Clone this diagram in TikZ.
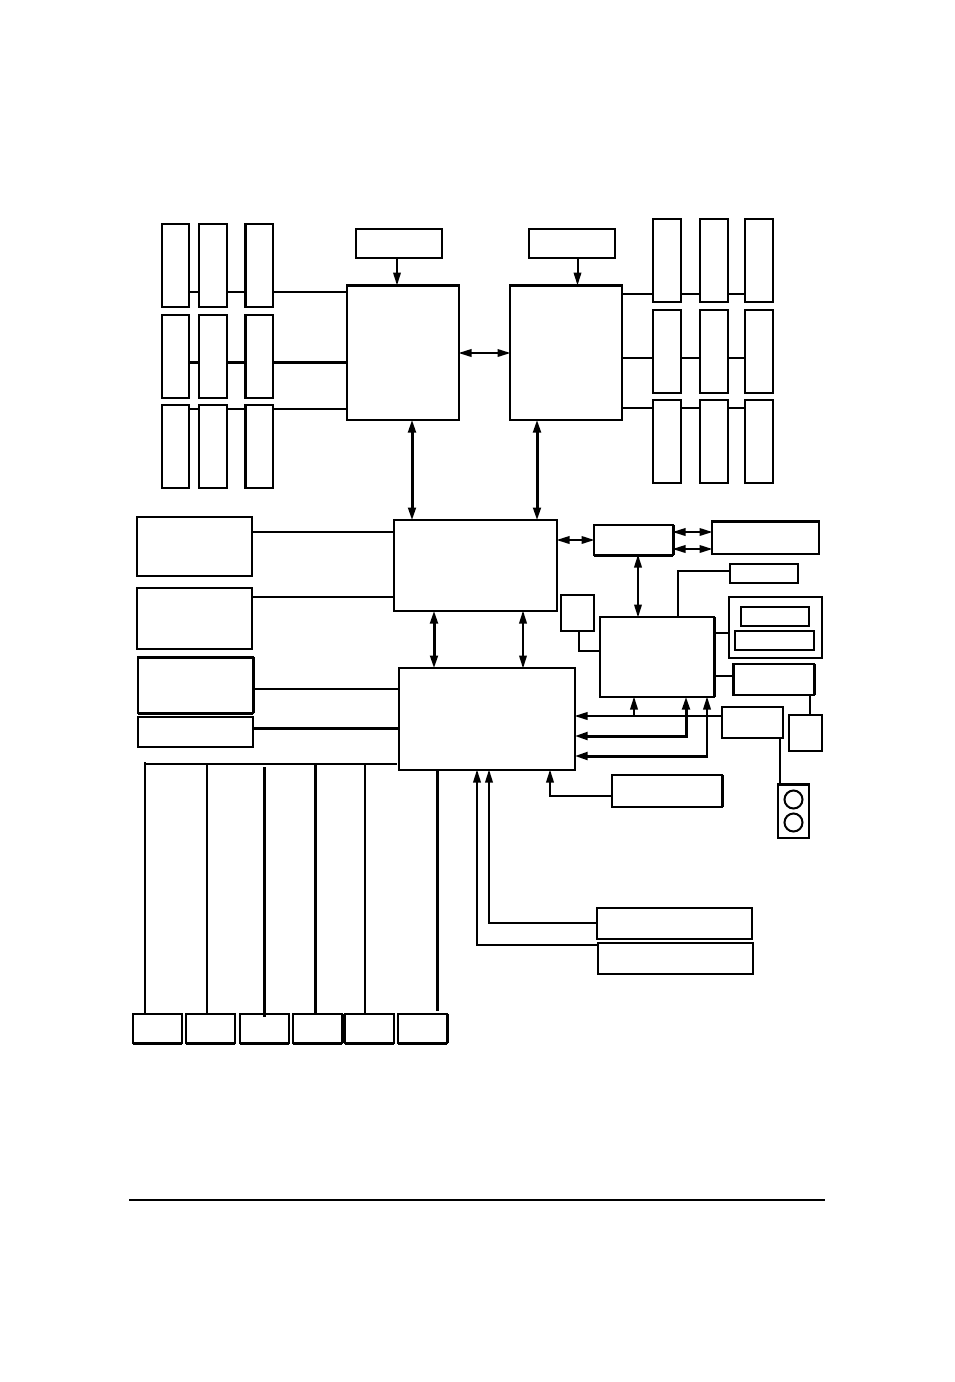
\documentclass[tikz,border=0pt]{standalone}
\usetikzlibrary{arrows.meta,calc}
\tikzset{
  box/.style={draw=black,line width=2pt,fill=white,inner sep=0pt,outer sep=0pt,rectangle},
  hbox/.style={box},
  ln/.style={draw=black,line width=2pt},
  hv/.style={draw=black,line width=3pt},
  edge3/.style={draw=black,line width=3pt,line cap=butt},
  tipa/.tip={Triangle[length=13pt,width=7.5pt]},
  arr/.style={ln,-tipa,shorten >=-0.5pt},
  harr/.style={hv,-tipa,shorten >=-0.5pt},
  darr/.style={ln,tipa-tipa,shorten >=-0.5pt,shorten <=-0.5pt},
  hdarr/.style={hv,tipa-tipa,shorten >=-0.5pt,shorten <=-0.5pt},
  x=1pt,y=-1pt
}
\newcommand\bx[6][]{%
  \pgfmathsetmacro\bxw{#5-#3}\pgfmathsetmacro\bxh{#6-#4}%
  \pgfmathsetmacro\bxx{(#3+#5)/2}\pgfmathsetmacro\bxy{(#4+#6)/2}%
  \node[box,#1,minimum width=\bxw pt,minimum height=\bxh pt] (#2) at (\bxx,\bxy) {};}
\begin{document}
\begin{tikzpicture}
\path[use as bounding box,fill=white] (0,0) rectangle (954,1382);
% left memory
\bx{la}{162}{224}{189}{307}\bx{lb}{199}{224}{227}{307}\bx[hbox]{lc}{245}{224}{273}{307}
\bx{ld}{162}{315}{189}{398}\bx{le}{199}{315}{227}{398}\bx[hbox]{lf}{245}{315}{273}{398}
\bx{lg}{162}{405}{189}{488}\bx{lh}{199}{405}{227}{488}\bx[hbox]{li}{245}{405}{273}{488}
\draw[edge3] (lc.north west)--(lc.south west);
\draw[edge3] (lf.north west)--(lf.south west);
\draw[edge3] (li.north west)--(li.south west);
% right memory
\bx{ra}{653}{219}{681}{302}\bx{rb}{700}{219}{728}{302}\bx{rc}{745}{219}{773}{302}
\bx{rd}{653}{310}{681}{393}\bx{re}{700}{310}{728}{393}\bx{rf}{745}{310}{773}{393}
\bx{rg}{653}{400}{681}{483}\bx{rh}{700}{400}{728}{483}\bx{ri}{745}{400}{773}{483}
% cpus
\bx{vl}{356}{229}{442}{258}\bx{vr}{529}{229}{615}{258}
\bx{cl}{347}{285}{459}{420}\bx{cr}{510}{285}{622}{420}
\draw[edge3] (cl.north west)--(cl.north east);
\draw[edge3] (cr.north west)--(cr.north east);
% hubs
\bx{nb}{394}{520}{557}{611}\bx{sb}{399}{668}{575}{770}
% left column
\bx{pa}{137}{517}{252}{576}\bx{pb}{137}{588}{252}{649}
\bx[hbox]{pc}{138}{657}{253}{713}\bx{pd}{138}{717}{253}{747}
\draw[edge3] (pc.north west)--(pc.north east);
\draw[edge3] (pc.north east)--(pc.south east);
\draw[edge3] (pc.south west)--(pc.south east);
% right cluster
\bx[hbox]{ha}{594}{525}{673}{555}\bx[hbox]{hb}{712}{521}{819}{554}
\draw[edge3] (ha.south west)--(ha.south east);
\draw[edge3] (ha.north east)--(ha.south east);
\draw[edge3] (hb.north west)--(hb.north east);
\bx{sm}{561}{595}{594}{631}
\bx{io}{600}{617}{714}{697}
\draw[edge3] (io.north east)--(io.south east);
\bx{ta}{730}{564}{798}{583}
\bx{tb}{729}{597}{822}{658}\bx{tc}{741}{607}{809}{626}\bx{td}{735}{631}{814}{650}
\bx[hbox]{te}{733}{664}{814}{695}
\draw[edge3] (te.north west)--(te.south west);
\draw[edge3] (te.north east)--(te.south east);
\bx{tf}{722}{707}{783}{738}\bx{tg}{789}{715}{822}{751}
\bx[hbox]{sp}{778}{784}{809}{838}
\draw[edge3] (sp.north west)--(sp.north east);
\node[draw=black,line width=2pt,circle,minimum size=18pt,inner sep=0pt,outer sep=0pt] (spa) at (793.5,799.5) {};
\node[draw=black,line width=2pt,circle,minimum size=18pt,inner sep=0pt,outer sep=0pt] (spb) at (793.5,822.5) {};
\bx[hbox]{ua}{612}{775}{722}{807}
\draw[edge3] (ua.north east)--(ua.south east);
\bx{ub}{597}{908}{752}{939}\bx{uc}{598}{943}{753}{974}
% bottom slots
\bx[hbox]{s1}{133}{1014}{182}{1043}\bx[hbox]{s2}{186}{1014}{235}{1043}\bx[hbox]{s3}{240}{1014}{289}{1043}
\bx[hbox]{s4}{293}{1014}{342}{1043}\bx[hbox]{s5}{345}{1014}{394}{1043}\bx[hbox]{s6}{398}{1014}{447}{1043}
\foreach \s in {s1,s2,s3,s4,s5,s6}{\draw[edge3] (\s.south west)--(\s.south east);}
\draw[edge3] (s6.north east)--(s6.south east);
\draw[edge3] (s4.north east)--(s4.south east);
% memory connectors left
\draw[ln] (la.east |- 0,292)--(lb.west |- 0,292);
\draw[ln] (lb.east |- 0,292)--(lc.west |- 0,292);
\draw[ln] (lc.east |- 0,292)--(cl.west |- 0,292);
\draw[hv] (ld.east |- 0,362)--(le.west |- 0,362);
\draw[hv] (le.east |- 0,362)--(lf.west |- 0,362);
\draw[hv] (lf.east |- 0,362)--(cl.west |- 0,362);
\draw[ln] (lg.east |- 0,409)--(lh.west |- 0,409);
\draw[ln] (lh.east |- 0,409)--(li.west |- 0,409);
\draw[ln] (li.east |- 0,409)--(cl.west |- 0,409);
% memory connectors right
\draw[ln] (cr.east |- 0,294)--(ra.west |- 0,294);
\draw[ln] (ra.east |- 0,294)--(rb.west |- 0,294);
\draw[ln] (rb.east |- 0,294)--(rc.west |- 0,294);
\draw[ln] (cr.east |- 0,358)--(rd.west |- 0,358);
\draw[ln] (rd.east |- 0,358)--(re.west |- 0,358);
\draw[ln] (re.east |- 0,358)--(rf.west |- 0,358);
\draw[ln] (cr.east |- 0,408)--(rg.west |- 0,408);
\draw[ln] (rg.east |- 0,408)--(rh.west |- 0,408);
\draw[ln] (rh.east |- 0,408)--(ri.west |- 0,408);
% cpu arrows
\draw[arr] (vl.south -| 397,0)--(cl.north -| 397,0);
\draw[arr] (vr.south -| 577.5,0)--(cr.north -| 577.5,0);
\draw[darr] (cl.east |- 0,353)--(cr.west |- 0,353);
\draw[hdarr] (cl.south -| 412,0)--(nb.north -| 412,0);
\draw[hdarr] (cr.south -| 537,0)--(nb.north -| 537,0);
\draw[hdarr] (nb.south -| 434,0)--(sb.north -| 434,0);
\draw[darr] (nb.south -| 523,0)--(sb.north -| 523,0);
% left column links
\draw[ln] (pa.east |- 0,532)--(nb.west |- 0,532);
\draw[ln] (pb.east |- 0,597)--(nb.west |- 0,597);
\draw[ln] (pc.east |- 0,689)--(sb.west |- 0,689);
\draw[hv] (pd.east |- 0,728)--(sb.west |- 0,728);
% right cluster links
\draw[darr] (nb.east |- 0,540)--(ha.west |- 0,540);
\draw[darr] (ha.east |- 0,532)--(hb.west |- 0,532);
\draw[darr] (ha.east |- 0,549)--(hb.west |- 0,549);
\draw[darr] (ha.south -| 638,0)--(io.north -| 638,0);
\draw[ln] (sm.south -| 579,0)--(579,651)--(io.west |- 0,651);
\draw[ln] (ta.west |- 0,571)--(678,571)--(io.north -| 678,0);
\draw[ln] (io.east |- 0,633)--(tb.west |- 0,633);
\draw[ln] (io.east |- 0,676)--(te.west |- 0,676);
\draw[ln] (te.south -| 810,0)--(tg.north -| 810,0);
\draw[arr] (tf.west |- 0,716)--(sb.east |- 0,716);
\draw[arr] (634,716)--(io.south -| 634,0);
\draw[harr] (686,736)--(io.south -| 686,0);
\draw[harr] (687.5,736)--(sb.east |- 0,736);
\draw[arr] (707,756)--(io.south -| 707,0);
\draw[harr] (708,756)--(sb.east |- 0,756);
\draw[ln] (tf.south -| 780,0)--(sp.north -| 780,0);
\draw[arr] (ua.west |- 0,796)--(550,796)--(sb.south -| 550,0);
\draw[arr] (ub.west |- 0,923)--(489,923)--(sb.south -| 489,0);
\draw[arr] (uc.west |- 0,945)--(477,945)--(sb.south -| 477,0);
% expansion bus
\coordinate (busl) at (145,764);
\coordinate (busr) at (397,764);
\coordinate (top3) at (264,767);
\coordinate (end3) at (264,1017);
\coordinate (end6) at (437,1011);
\coordinate (rulea) at (129,1200);
\coordinate (ruleb) at (825,1200);
\draw[ln] (busl)--(busr);
\draw[ln] (145,762)--(s1.north -| 145,0);
\draw[ln] (207,764)--(s2.north -| 207,0);
\draw[hv] (top3)--(end3);
\draw[hv] (315,764)--(s4.north -| 315,0);
\draw[ln] (365,764)--(s5.north -| 365,0);
\draw[hv] (sb.south -| 437,0)--(end6);
\draw[ln] (rulea)--(ruleb);
\end{tikzpicture}
\end{document}
